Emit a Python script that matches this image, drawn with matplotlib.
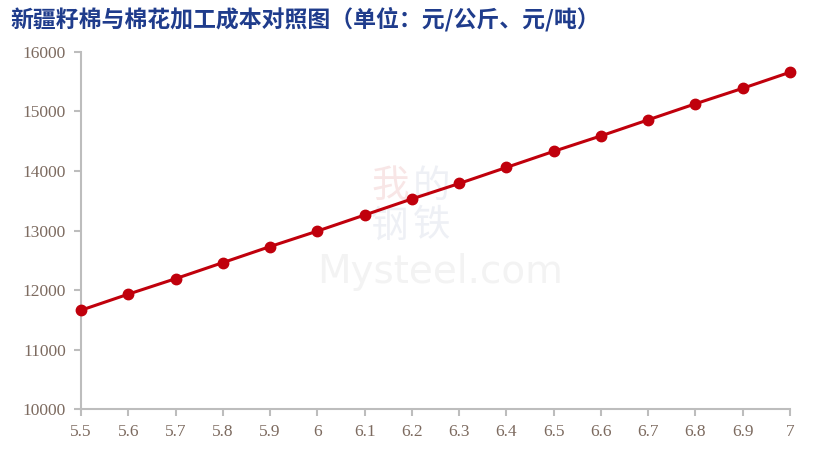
import matplotlib
matplotlib.use("Agg")
import matplotlib.pyplot as plt

price = [5.5, 5.6, 5.7, 5.8, 5.9, 6.0, 6.1, 6.2, 6.3, 6.4, 6.5, 6.6, 6.7, 6.8, 6.9, 7.0]
cost = [11660, 11930, 12190, 12460, 12730, 12990, 13260, 13530, 13790, 14060,
        14330, 14590, 14860, 15130, 15390, 15660]
x_labels = ["5.5", "5.6", "5.7", "5.8", "5.9", "6", "6.1", "6.2", "6.3", "6.4",
            "6.5", "6.6", "6.7", "6.8", "6.9", "7"]
y_ticks = [10000, 11000, 12000, 13000, 14000, 15000, 16000]
title = "新疆籽棉与棉花加工成本对照图（单位：元/公斤、元/吨）"

W, H = 816, 461
fig = plt.figure(figsize=(W / 100, H / 100), dpi=100)
ax = fig.add_axes([81 / W, 1 - 409 / H, (790 - 81) / W, (409 - 52) / H])

# watermark (behind the line)
ax.text(390 / W, 1 - 186 / H, "我", ha="center", va="center", fontsize=27,
        family=["Noto Sans CJK SC"], color="#f8e6e6", zorder=1, transform=fig.transFigure)
for cx, cy, ch in [(432, 186, "的"), (390, 226, "钢"), (432, 226, "铁")]:
    ax.text(cx / W, 1 - cy / H, ch, ha="center", va="center", fontsize=27,
            family=["Noto Sans CJK SC"], color="#eef0f5", zorder=1, transform=fig.transFigure)
ax.text(440 / W, 1 - 272 / H, "Mysteel.com", ha="center", va="center", fontsize=28,
        family=["DejaVu Sans"], color="#f3f3f3", zorder=1, transform=fig.transFigure)

ax.plot(price, cost, color="#c0000c", linewidth=2.2, marker="o", markersize=7.5,
        solid_capstyle="round", clip_on=False, zorder=3)

ax.set_xlim(5.5, 7.0)
ax.set_ylim(10000, 16000)
ax.set_xticks(price)
ax.set_xticklabels(x_labels)
ax.set_yticks(y_ticks)
ax.set_yticklabels([str(v) for v in y_ticks])

for s in ["top", "right"]:
    ax.spines[s].set_visible(False)
for s in ["left", "bottom"]:
    ax.spines[s].set_color("#bdbdbd")
    ax.spines[s].set_linewidth(1.5)
ax.tick_params(axis="both", colors="#bdbdbd", length=5, width=1.5, direction="out",
               labelcolor="#7d6b60", labelsize=12.5, pad=6)
for lab in ax.get_xticklabels() + ax.get_yticklabels():
    lab.set_family("Liberation Serif")
ax.patch.set_alpha(0)

fig.text(10 / W, 1 - 19 / H, title, ha="left", va="center", fontsize=16.5,
         fontweight="bold", color="#1f3c8c", family=["Noto Sans CJK SC", "DejaVu Sans"])

fig.savefig("out.png", dpi=100)
